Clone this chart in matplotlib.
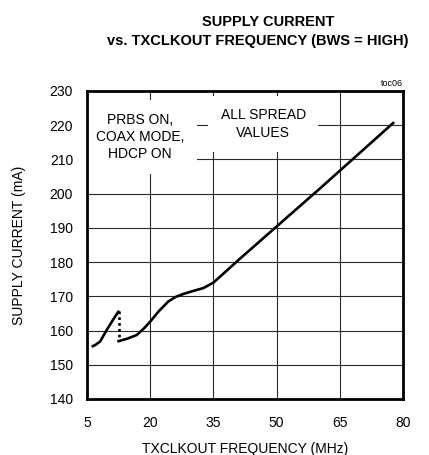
import matplotlib
matplotlib.use("Agg")
import matplotlib.pyplot as plt

# ==============================
# DATA
# ==============================
# low range segment (before the range switch)
freq_low = [6.1, 7.0, 8.1, 9.7, 11.2, 12.6]
curr_low = [155.3, 155.8, 156.8, 160.2, 163.2, 165.8]

# dotted jump at the range switch
freq_jump = [12.6, 12.6]
curr_jump = [165.8, 157.0]

# high range segment
freq_high = [12.2, 14.5, 16.8, 18.5, 20.0, 22.0, 24.3, 26.0, 27.9, 30.0, 32.6, 35.0,
             41.3, 50.0, 60.0, 70.0, 77.9]
curr_high = [156.8, 157.6, 158.7, 160.6, 162.6, 165.6, 168.5, 169.8, 170.7, 171.5, 172.4, 174.0,
             181.0, 190.4, 201.2, 212.2, 220.9]

x_ticks = [5, 20, 35, 50, 65, 80]
y_ticks = [140, 150, 160, 170, 180, 190, 200, 210, 220, 230]

plt.rcParams['font.family'] = ['Liberation Sans', 'DejaVu Sans']

fig = plt.figure(figsize=(4.29, 4.55), dpi=100)
ax = fig.add_axes([87 / 429, 56 / 455, 316 / 429, 308 / 455])

ax.set_xlim(5, 80)
ax.set_ylim(140, 230)
ax.set_xticks(x_ticks)
ax.set_yticks(y_ticks)
ax.tick_params(length=0, labelsize=10)
ax.tick_params(axis='x', pad=12)
ax.tick_params(axis='y', pad=10)
ax.grid(True, color='#2a2a2a', linewidth=0.8)
ax.set_axisbelow(True)
for s in ax.spines.values():
    s.set_linewidth(2.0)

ax.plot(freq_low, curr_low, color='black', linewidth=1.9, solid_capstyle='butt', zorder=3)
ax.plot(freq_jump, curr_jump, color='black', linewidth=1.9, linestyle=(0, (1, 1.2)), zorder=3)
ax.plot(freq_high, curr_high, color='black', linewidth=1.9, solid_capstyle='butt', zorder=3)

# text boxes with white background over the grid
ax.text(17.6, 216.6, "PRBS ON,\nCOAX MODE,\nHDCP ON", ha='center', va='center',
        fontsize=10, linespacing=1.3, zorder=2,
        bbox=dict(boxstyle='square,pad=0.9', facecolor='white', edgecolor='none'))
ax.text(46.8, 220.4, "ALL SPREAD\nVALUES", ha='center', va='center',
        fontsize=10, linespacing=1.3, zorder=2,
        bbox=dict(boxstyle='square,pad=0.9', facecolor='white', edgecolor='none'))

ax.set_xlabel("TXCLKOUT FREQUENCY (MHz)", fontsize=10, labelpad=9)
ax.set_ylabel("SUPPLY CURRENT (mA)", fontsize=10, labelpad=17)

fig.text(268 / 429, 1 - 22 / 455, "SUPPLY CURRENT", ha='center', va='center',
         fontsize=10.5, fontweight='bold')
fig.text(258 / 429, 1 - 41 / 455, "vs. TXCLKOUT FREQUENCY (BWS = HIGH)", ha='center',
         va='center', fontsize=10.5, fontweight='bold')
fig.text(403 / 429, 1 - 84 / 455, "toc06", ha='right', va='center', fontsize=6.5)

fig.savefig("out.png", dpi=100)
